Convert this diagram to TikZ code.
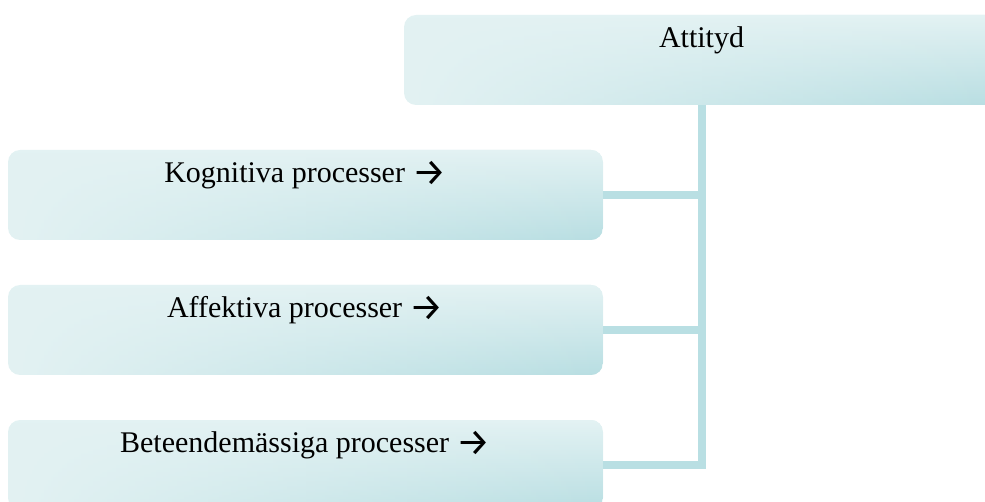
\documentclass[tikz,border=0pt]{standalone}
\usepackage{fontspec}
\setmainfont{Liberation Serif}
\newfontfamily\arrowfont{Fira Sans}
\usetikzlibrary{fadings}

\definecolor{boxlight}{HTML}{E3F2F3}
\definecolor{boxdark}{HTML}{B8DEE2}
\definecolor{linkcol}{HTML}{B9DFE3}

% transparent on the left, opaque on the right
\tikzfading[name=fadeleft, left color=transparent!100, middle color=transparent!88, right color=transparent!0]

\newcommand{\rarr}{\raisebox{-3pt}{\arrowfont\fontsize{38}{40}\selectfont →}}

\begin{document}
\begin{tikzpicture}[x=1pt, y=-1pt,
  card/.style={rectangle, rounded corners=12pt, minimum width=595pt, minimum height=90pt,
    inner sep=0pt, fill=boxlight,
    path picture={\fill[top color=boxlight, bottom color=boxdark, path fading=fadeleft]
      (path picture bounding box.south west) rectangle (path picture bounding box.north east);}},
  cardtext/.style={anchor=base, inner sep=0pt, font=\fontsize{30}{36}\selectfont, text=black},
  link/.style={draw=linkcol, line width=8pt, line join=miter}]
  \useasboundingbox (0,0) rectangle (985,502);
  \clip (0,0) rectangle (985,502);

  % cards
  \node[card] (top) at (701.5,60) {};
  \node[card] (kog) at (305.5,195) {};
  \node[card] (aff) at (305.5,330) {};
  \node[card] (bet) at (305.5,465) {};

  % connectors from each process to the attitude card
  \draw[link] (kog.east) -| (top.south);
  \draw[link] (aff.east) -| (top.south);
  \draw[link] (bet.east) -| (top.south);

  % labels
  \node[cardtext] (ttop) at ([yshift=-33pt]top.north) {Attityd};
  \node[cardtext] (tkog) at ([yshift=-33pt]kog.north) {Kognitiva processer \rarr};
  \node[cardtext] (taff) at ([yshift=-33pt]aff.north) {Affektiva processer \rarr};
  \node[cardtext] (tbet) at ([yshift=-33pt]bet.north) {Beteendemässiga processer \rarr};
\end{tikzpicture}
\end{document}
